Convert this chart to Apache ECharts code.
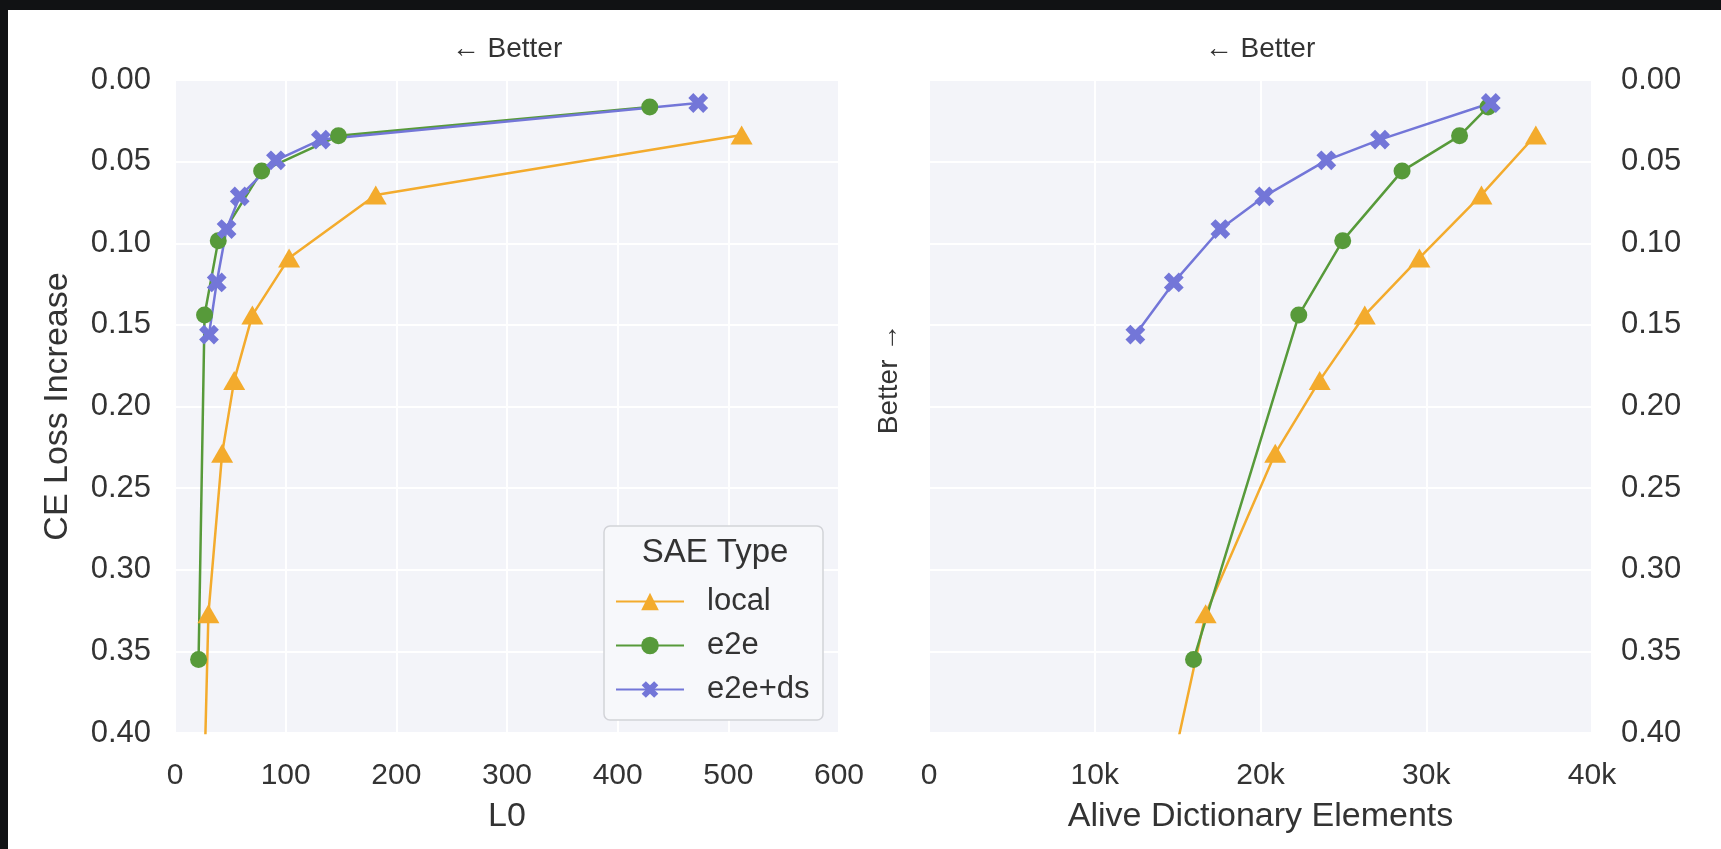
<!DOCTYPE html>
<html>
<head>
<meta charset="utf-8">
<script src="https://cdn.jsdelivr.net/npm/echarts@6/dist/echarts.min.js"></script>
<style>
  html, body { margin: 0; padding: 0; background: #ffffff; }
  #chart { width: 1721px; height: 849px; }
</style>
</head>
<body>
<div id="chart"></div>
<script>
// ---- data ----
const seriesNames = ['local', 'e2e', 'e2e+ds'];

const localCE   = [0.0337, 0.0704, 0.109, 0.144, 0.184, 0.2287, 0.327, 0.55];
const localL0   = [512, 181.4, 103.1, 69.9, 53.5, 42.6, 30.2, 22];
const localAlive = [36610, 33330, 29590, 26290, 23570, 20890, 16690, 11900];

const e2eCE    = [0.0165, 0.0342, 0.0558, 0.0984, 0.144, 0.355];
const e2eL0    = [429, 147.7, 78.3, 39.1, 26.7, 21.3];
const e2eAlive = [33730, 32010, 28540, 24960, 22310, 15960];

const dsCE    = [0.0141, 0.0365, 0.0492, 0.0713, 0.0913, 0.124, 0.156];
const dsL0    = [472.8, 131.8, 91.2, 58.5, 46.6, 37.7, 30.7];
const dsAlive = [33895, 27210, 23970, 20230, 17580, 14770, 12450];

const yTicks = [0, 0.05, 0.10, 0.15, 0.20, 0.25, 0.30, 0.35, 0.40];
const xTicksL0 = [0, 100, 200, 300, 400, 500, 600];
const xTicksAlive = [0, 10000, 20000, 30000, 40000];

// ---- styles ----
const colors = { 'local': '#f3ab2d', 'e2e': '#579a3a', 'e2e+ds': '#7376d8' };
const FONT = "'Liberation Sans', Arial, sans-serif";
const TXT = '#333333';
const PLOT_BG = '#f3f4f9';
const plusPath = 'path://M-1,-3 L1,-3 L1,-1 L3,-1 L3,1 L1,1 L1,3 L-1,3 L-1,1 L-3,1 L-3,-1 L-1,-1 Z';
const symbols = {
  'local': { symbol: 'triangle', symbolSize: [22, 19], symbolRotate: 0 },
  'e2e': { symbol: 'circle', symbolSize: 17, symbolRotate: 0 },
  'e2e+ds': { symbol: plusPath, symbolSize: 21, symbolRotate: 45 }
};

function zip(xs, ys) { return xs.map((x, i) => [x, ys[i]]); }

function makeSeries(name, xs, ys, gi) {
  const s = symbols[name];
  return {
    name: name,
    type: 'line',
    xAxisIndex: gi,
    yAxisIndex: gi,
    data: zip(xs, ys),
    symbol: s.symbol,
    symbolSize: s.symbolSize,
    symbolRotate: s.symbolRotate,
    showAllSymbol: true,
    clip: true,
    animation: false,
    lineStyle: { color: colors[name], width: 2.5 },
    itemStyle: { color: colors[name], borderWidth: 0 },
    emphasis: { disabled: true },
    z: 3
  };
}

function yAxisCommon(pos, margin) {
  return {
    type: 'value',
    position: pos,
    inverse: true,
    min: yTicks[0],
    max: yTicks[yTicks.length - 1],
    interval: 0.05,
    axisLine: { show: false },
    axisTick: { show: false },
    axisLabel: {
      fontSize: 31, color: TXT, fontFamily: FONT, margin: margin,
      formatter: v => v.toFixed(2)
    },
    splitLine: { show: true, lineStyle: { color: '#ffffff', width: 2 } }
  };
}

const option = {
  backgroundColor: '#ffffff',
  animation: false,
  grid: [
    { left: 175, top: 80, width: 664, height: 653, show: true, backgroundColor: PLOT_BG, borderWidth: 0 },
    { left: 929, top: 80, width: 663, height: 653, show: true, backgroundColor: PLOT_BG, borderWidth: 0 }
  ],
  xAxis: [
    {
      type: 'value', gridIndex: 0,
      min: xTicksL0[0], max: xTicksL0[xTicksL0.length - 1], interval: 100,
      name: 'L0', nameLocation: 'middle', nameGap: 67,
      nameTextStyle: { fontSize: 34, color: TXT, fontFamily: FONT },
      axisLine: { show: false }, axisTick: { show: false },
      axisLabel: { fontSize: 30, color: TXT, fontFamily: FONT, margin: 28 },
      splitLine: { show: true, lineStyle: { color: '#ffffff', width: 2 } }
    },
    {
      type: 'value', gridIndex: 1,
      min: xTicksAlive[0], max: xTicksAlive[xTicksAlive.length - 1], interval: 10000,
      name: 'Alive Dictionary Elements', nameLocation: 'middle', nameGap: 67,
      nameTextStyle: { fontSize: 34, color: TXT, fontFamily: FONT },
      axisLine: { show: false }, axisTick: { show: false },
      axisLabel: {
        fontSize: 30, color: TXT, fontFamily: FONT, margin: 28,
        formatter: v => v === 0 ? '0' : (v / 1000) + 'k'
      },
      splitLine: { show: true, lineStyle: { color: '#ffffff', width: 2 } }
    }
  ],
  yAxis: [
    Object.assign(yAxisCommon('left', 24), {
      gridIndex: 0,
      name: 'CE Loss Increase', nameLocation: 'middle', nameGap: 100, nameRotate: 90,
      nameTextStyle: { fontSize: 34, color: TXT, fontFamily: FONT }
    }),
    Object.assign(yAxisCommon('right', 29), { gridIndex: 1 })
  ],
  legend: {
    data: seriesNames,
    orient: 'vertical',
    left: 610,
    top: 581,
    itemWidth: 68,
    itemHeight: 22,
    itemGap: 13,
    selectedMode: false,
    z: 10,
    textStyle: { fontSize: 31, color: TXT, fontFamily: FONT, padding: [0, 0, 0, 18] }
  },
  graphic: [
    { type: 'rect', left: 0, top: 0, shape: { x: 0, y: 0, width: 1721, height: 10 }, style: { fill: '#111214' }, z: 100 },
    { type: 'rect', left: 0, top: 0, shape: { x: 0, y: 0, width: 8, height: 849 }, style: { fill: '#111214' }, z: 100 },
    { type: 'rect', shape: { x: 604, y: 526, width: 219, height: 194, r: 6 },
      style: { fill: '#f7f8fb', stroke: '#d2d3d8', lineWidth: 1.5 }, z: 5 },
    { type: 'text', x: 715, y: 553, z: 11,
      style: { text: 'SAE Type', fontSize: 33, fill: TXT, fontFamily: FONT, textAlign: 'center', textVerticalAlign: 'middle' } },
    { type: 'text', x: 507, y: 49, z: 11,
      style: { text: '\u2190 Better', fontSize: 28, fill: TXT, fontFamily: FONT, textAlign: 'center', textVerticalAlign: 'middle' } },
    { type: 'text', x: 1260, y: 49, z: 11,
      style: { text: '\u2190 Better', fontSize: 28, fill: TXT, fontFamily: FONT, textAlign: 'center', textVerticalAlign: 'middle' } },
    { type: 'text', x: 889, y: 379, rotation: Math.PI / 2, z: 11,
      style: { text: 'Better \u2192', fontSize: 28, fill: TXT, fontFamily: FONT, textAlign: 'center', textVerticalAlign: 'middle' } }
  ],
  series: [
    makeSeries('local', localL0, localCE, 0),
    makeSeries('e2e', e2eL0, e2eCE, 0),
    makeSeries('e2e+ds', dsL0, dsCE, 0),
    makeSeries('local', localAlive, localCE, 1),
    makeSeries('e2e', e2eAlive, e2eCE, 1),
    makeSeries('e2e+ds', dsAlive, dsCE, 1)
  ]
};

const chart = echarts.init(document.getElementById('chart'), null, { renderer: 'canvas' });
chart.setOption(option);
</script>
</body>
</html>
